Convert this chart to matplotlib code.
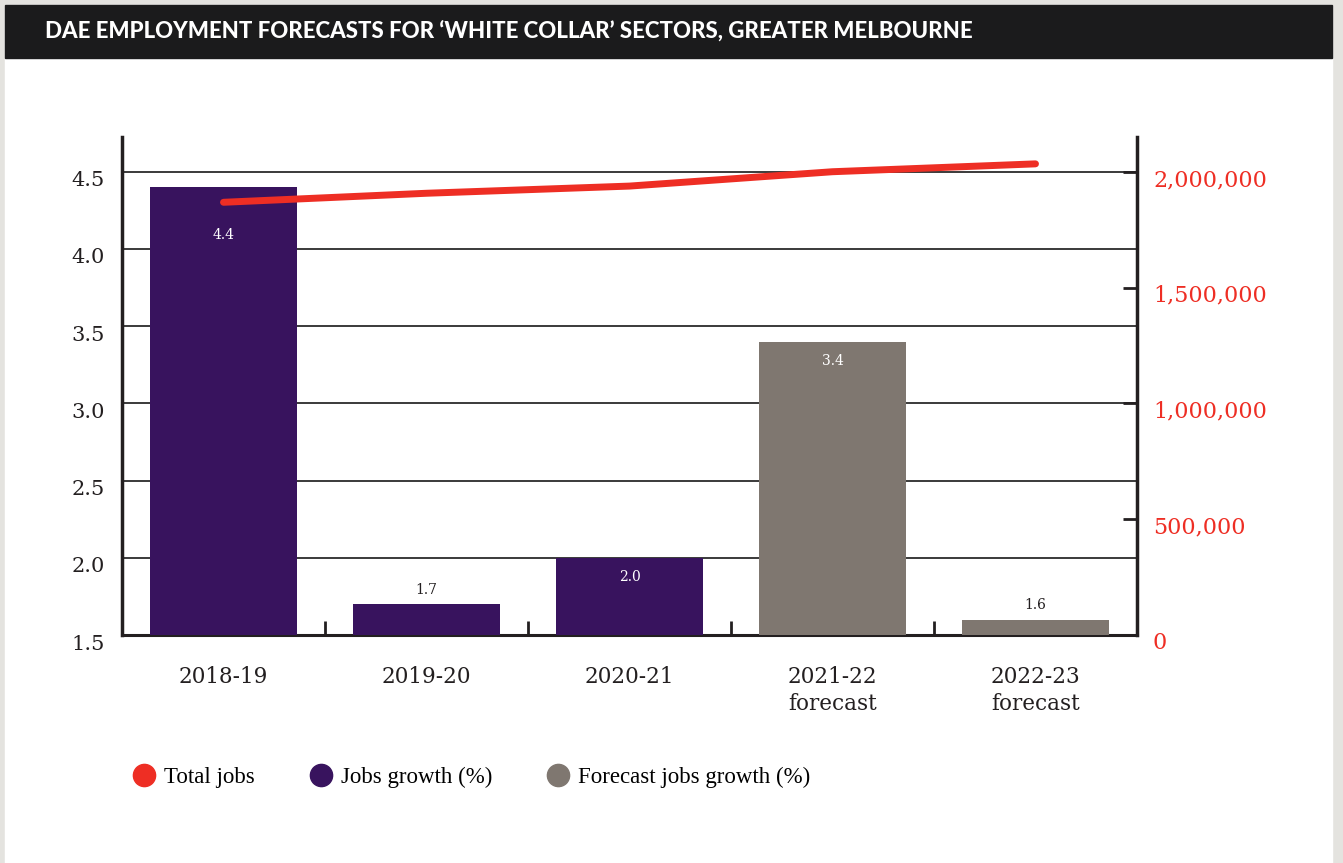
import matplotlib
matplotlib.use("Agg")
import matplotlib.pyplot as plt
from matplotlib.patches import Rectangle
from matplotlib.lines import Line2D
from matplotlib.transforms import ScaledTranslation, blended_transform_factory

# ---- data ----
categories = ["2018-19", "2019-20", "2020-21", "2021-22\nforecast", "2022-23\nforecast"]
growth = [4.4, 1.7, 2.0, 3.4, 1.6]
is_forecast = [False, False, False, True, True]
total_jobs = [1869000, 1908000, 1939000, 2001000, 2035000]
left_ticks = [1.5, 2.0, 2.5, 3.0, 3.5, 4.0, 4.5]
left_tick_labels = ["1.5", "2.0", "2.5", "3.0", "3.5", "4.0", "4.5"]
right_ticks = [0, 500000, 1000000, 1500000, 2000000]
right_tick_labels = ["0", "500,000", "1,000,000", "1,500,000", "2,000,000"]
legend_labels = ["Total jobs", "Jobs growth (%)", "Forecast jobs growth (%)"]
title = "DAE EMPLOYMENT FORECASTS FOR \u2018WHITE COLLAR\u2019 SECTORS, GREATER MELBOURNE"

# ---- style ----
PURPLE = "#38135e"
GREY = "#7f7770"
RED = "#ee2e24"
DARK = "#231f20"
BORDER = "#e4e3df"
label_offsets_px = [-48, 14, -19, -19, 15]   # bar value label offsets from bar top
SERIF = "DejaVu Serif"

W, H, DPI = 1343, 863, 100
fig = plt.figure(figsize=(W / DPI, H / DPI), dpi=DPI, facecolor="white")

# border and title bar
fig.patches.append(Rectangle((0, 0), 1, 1, transform=fig.transFigure, color=BORDER, zorder=-10))
fig.patches.append(Rectangle((5 / W, 0), (1332 - 5) / W, 1 - 5 / H, transform=fig.transFigure,
                             color="white", zorder=-9))
fig.patches.append(Rectangle((5 / W, 1 - 58 / H), (1332 - 5) / W, 53 / H, transform=fig.transFigure,
                             color="#1b1b1c", zorder=-8))
fig.text(45 / W, 1 - 31 / H, title, color="white", fontsize=16, fontweight="black",
         family="Lato", va="center", ha="left")

# axes
ax = fig.add_axes([122 / W, 1 - 635 / H, (1137 - 122) / W, (635 - 137) / H])
ax2 = ax.twinx()
ax.set_zorder(1)
ax2.set_zorder(2)
ax.patch.set_visible(False)
ax2.patch.set_visible(False)

x = list(range(len(categories)))
colors = [GREY if f else PURPLE for f in is_forecast]
ax.bar(x, [g - 1.5 for g in growth], bottom=1.5, width=0.724, color=colors, zorder=3)
ax.set_xlim(-0.5, 4.5)
ax.set_ylim(1.5, 4.725)

# gridlines
for t in left_ticks[1:]:
    ax.axhline(t, color="#2b2b2b", lw=1.3, zorder=1)

# spines
for s in ["top", "right"]:
    ax.spines[s].set_visible(False)
ax.spines["left"].set_linewidth(2.5)
ax.spines["left"].set_color(DARK)
ax.spines["bottom"].set_linewidth(2.2)
ax.spines["bottom"].set_color(DARK)
for s in ["top", "left", "bottom"]:
    ax2.spines[s].set_visible(False)
ax2.spines["right"].set_linewidth(2.5)
ax2.spines["right"].set_color(DARK)

# left tick labels (offset below gridlines)
ax.set_yticks([])
trans_l = blended_transform_factory(ax.transAxes, ax.transData)
for t, lab in zip(left_ticks, left_tick_labels):
    ax.text(-17 / (1137 - 122), t, lab, transform=trans_l + ScaledTranslation(0, -9 / DPI, fig.dpi_scale_trans),
            ha="right", va="center", fontsize=15, family=SERIF, color=DARK)

# x ticks
ax.set_xticks(x)
ax.set_xticklabels(categories, fontsize=15.5, family=SERIF, color=DARK, linespacing=1.3)
ax.tick_params(axis="x", which="major", length=0, pad=22)
ax.set_xticks([0.5, 1.5, 2.5, 3.5], minor=True)
ax.tick_params(axis="x", which="minor", direction="in", length=10, width=2, color=DARK)

# right axis
ax2.set_ylim(0, 2151000)
ax2.set_yticks(right_ticks)
ax2.set_yticklabels([])
ax2.tick_params(axis="y", direction="in", length=10, width=2, color=DARK)
trans_r = blended_transform_factory(ax2.transAxes, ax2.transData)
for t, lab in zip(right_ticks, right_tick_labels):
    ax2.text(1 + 16 / (1137 - 122), t, lab, transform=trans_r + ScaledTranslation(0, -8 / DPI, fig.dpi_scale_trans),
             ha="left", va="center", fontsize=16, family=SERIF, color=RED)

ax2.plot(x, total_jobs, color=RED, lw=5, solid_capstyle="round", zorder=5)

# bar value labels
for i, g in enumerate(growth):
    off = label_offsets_px[i]
    inside = off < 0
    ax.text(i, g, f"{g:.1f}", transform=ax.transData + ScaledTranslation(0, off / DPI, fig.dpi_scale_trans),
            ha="center", va="center", fontsize=10, family=SERIF,
            color="white" if inside else DARK, zorder=6)

# legend
handles = [Line2D([], [], marker="o", ls="", markersize=16, markerfacecolor=c, markeredgecolor=c)
           for c in [RED, PURPLE, GREY]]
fig.legend(handles, legend_labels, loc="center left", bbox_to_anchor=(110 / W, 1 - 777 / H),
           ncol=3, frameon=False, handletextpad=0.25, columnspacing=2.3, handlelength=1.2,
           prop={"family": "Liberation Serif", "size": 16.5})

fig.savefig("out.png", dpi=DPI, facecolor=fig.get_facecolor())
